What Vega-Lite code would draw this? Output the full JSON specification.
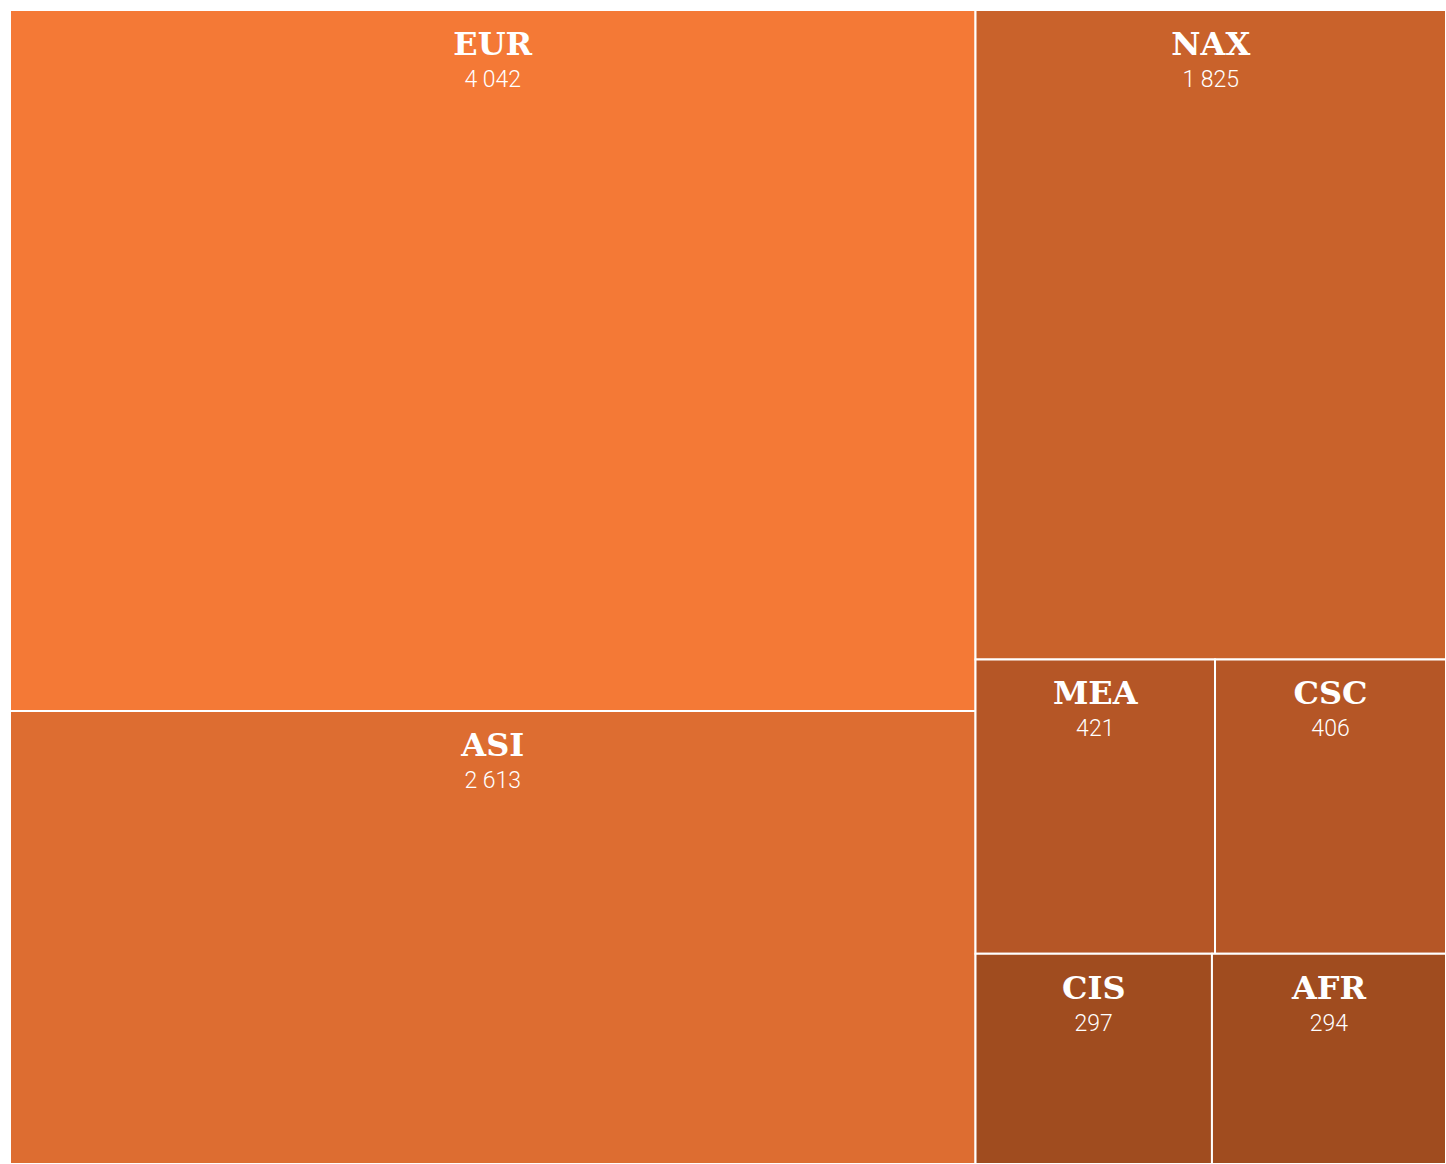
{
  "$schema": "https://vega.github.io/schema/vega-lite/v6.json",
  "width": 1436,
  "height": 1154,
  "autosize": {"type": "none"},
  "padding": {"left": 10, "top": 10, "right": 0, "bottom": 0},
  "background": "white",
  "config": {
    "view": {"stroke": null},
    "locale": {"number": {"decimal": ",", "thousands": " ", "grouping": [3], "currency": ["", ""]}}
  },
  "data": {
    "values": [
      {"region": "EUR", "value": 4042, "g1": "L", "g2": "EUR", "g3": "EUR", "order": 1},
      {"region": "ASI", "value": 2613, "g1": "L", "g2": "ASI", "g3": "ASI", "order": 2},
      {"region": "NAX", "value": 1825, "g1": "R", "g2": "NAX", "g3": "NAX", "order": 3},
      {"region": "MEA", "value": 421, "g1": "R", "g2": "R2", "g3": "R2t", "order": 4},
      {"region": "CSC", "value": 406, "g1": "R", "g2": "R2", "g3": "R2t", "order": 5},
      {"region": "CIS", "value": 297, "g1": "R", "g2": "R2", "g3": "R2b", "order": 6},
      {"region": "AFR", "value": 294, "g1": "R", "g2": "R2", "g3": "R2b", "order": 7}
    ]
  },
  "transform": [
    {"joinaggregate": [{"op": "sum", "field": "value", "as": "total"}]},
    {"joinaggregate": [{"op": "sum", "field": "value", "as": "s1"}], "groupby": ["g1"]},
    {"joinaggregate": [{"op": "sum", "field": "value", "as": "s2"}], "groupby": ["g2"]},
    {"joinaggregate": [{"op": "sum", "field": "value", "as": "s3"}], "groupby": ["g3"]},
    {"stack": "value", "groupby": ["g3"], "sort": [{"field": "order"}], "offset": "normalize", "as": ["xa", "xb"]},
    {"calculate": "datum.g1 == 'L' ? 0 : 1 - datum.s1 / datum.total", "as": "gx0"},
    {"calculate": "datum.s1 / datum.total", "as": "gw"},
    {"calculate": "datum.gx0 + datum.gw * datum.xa", "as": "x0"},
    {"calculate": "datum.gx0 + datum.gw * datum.xb", "as": "x1"},
    {"calculate": "(datum.g2 == 'EUR' || datum.g2 == 'NAX') ? 0 : 1 - datum.s2 / datum.s1", "as": "by0"},
    {"calculate": "datum.s2 / datum.s1", "as": "bh"},
    {"calculate": "datum.g3 == 'R2b' ? 1 - datum.s3 / datum.s2 : 0", "as": "sy0"},
    {"calculate": "datum.s3 / datum.s2", "as": "sh"},
    {"calculate": "datum.by0 + datum.bh * datum.sy0", "as": "y0"},
    {"calculate": "datum.y0 + datum.bh * datum.sh", "as": "y1"},
    {"calculate": "(datum.x0 + datum.x1) / 2", "as": "xc"}
  ],
  "encoding": {
    "x": {"field": "x0", "type": "quantitative", "scale": {"domain": [0, 1], "nice": false, "zero": false}, "axis": null},
    "y": {"field": "y0", "type": "quantitative", "scale": {"domain": [0, 1], "nice": false, "zero": false, "reverse": true}, "axis": null}
  },
  "layer": [
    {
      "mark": {"type": "rect", "stroke": "white", "strokeWidth": 2},
      "encoding": {
        "x2": {"field": "x1"},
        "y2": {"field": "y1"},
        "color": {
          "field": "region", "type": "nominal", "legend": null,
          "scale": {
            "domain": ["EUR", "ASI", "NAX", "MEA", "CSC", "CIS", "AFR"],
            "range": ["#F47936", "#DD6D31", "#C9622B", "#B55626", "#B55626", "#A04C1F", "#A04C1F"]
          }
        }
      }
    },
    {
      "mark": {"type": "text", "font": "DejaVu Serif", "fontWeight": "bold", "fontSize": 32, "color": "white", "align": "center", "baseline": "alphabetic", "dy": 45},
      "encoding": {
        "x": {"field": "xc", "type": "quantitative"},
        "text": {"field": "region", "type": "nominal"}
      }
    },
    {
      "mark": {"type": "text", "font": "Roboto", "fontWeight": 300, "fontSize": 23, "color": "white", "align": "center", "baseline": "alphabetic", "dy": 77},
      "encoding": {
        "x": {"field": "xc", "type": "quantitative"},
        "text": {"field": "value", "type": "quantitative", "format": ",d"}
      }
    }
  ]
}
